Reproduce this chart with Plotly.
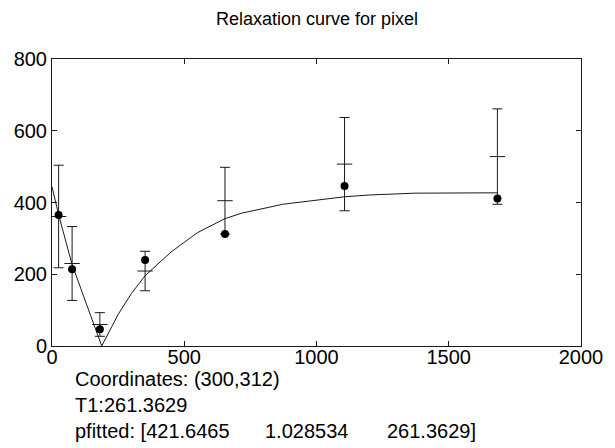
import plotly.graph_objects as go

# Measured data (dots)
t_data = [25, 76, 181, 352, 654, 1106, 1684]
s_data = [365, 214, 47, 240, 312, 446, 411]

# Error bars: centre value and half-length
err_center = [361, 230, 60, 209, 405, 507, 528]
err_half = [143, 103, 33, 55, 93, 130, 133]

# Fitted curve
t_fit = [0, 25, 76, 188, 250, 300, 352, 450, 550, 654, 716, 872, 1106, 1202, 1372, 1684]
s_fit = [444, 366, 227, 0, 88, 146, 196, 262, 316, 355, 370, 395, 416, 421, 426, 427]

x_ticks = [0, 500, 1000, 1500, 2000]
y_ticks = [0, 200, 400, 600, 800]

title_text = "Relaxation curve for pixel"
info_lines = ["Coordinates: (300,312)", "T1:261.3629"]
pfit_parts = ["pfitted: [421.6465", "1.028534", "261.3629]"]

FONT = "Liberation Sans, Arial, sans-serif"

fig = go.Figure()

fig.add_trace(go.Scatter(
    x=t_fit, y=s_fit, mode="lines",
    line=dict(color="#1a1a1a", width=1),
    hoverinfo="skip", showlegend=False,
))

fig.add_trace(go.Scatter(
    x=t_data, y=err_center, mode="markers",
    marker=dict(symbol="line-ew-open", size=11, color="#1a1a1a",
                line=dict(color="#1a1a1a", width=1)),
    error_y=dict(type="data", array=err_half, symmetric=True,
                 color="#1a1a1a", thickness=1, width=5),
    showlegend=False,
))

fig.add_trace(go.Scatter(
    x=t_data, y=s_data, mode="markers",
    marker=dict(symbol="circle", size=8, color="black"),
    showlegend=False,
))

L, R, T, B = 52, 586, 59, 346
W, H = 615, 448

def px(xp):
    return (xp - L) / (R - L)

def py(yp):
    return (B - yp) / (B - T)

annotations = []
row_y = [379, 405, 431]
for i, line in enumerate(info_lines):
    annotations.append(dict(
        text=line, xref="paper", yref="paper", x=px(73), y=py(row_y[i]),
        xanchor="left", yanchor="middle", showarrow=False,
        font=dict(family=FONT, size=20, color="black"),
    ))
for part, xp in zip(pfit_parts, [73, 265, 388]):
    annotations.append(dict(
        text=part, xref="paper", yref="paper", x=px(xp), y=py(row_y[2]),
        xanchor="left", yanchor="middle", showarrow=False,
        font=dict(family=FONT, size=20, color="black"),
    ))
annotations.append(dict(
    text=title_text, xref="paper", yref="paper", x=0.5, y=py(19),
    xanchor="center", yanchor="middle", showarrow=False,
    font=dict(family=FONT, size=18, color="black"),
))

axis_common = dict(
    showline=True, linecolor="#1a1a1a", linewidth=1, mirror="ticks",
    ticks="inside", ticklen=5, tickwidth=1, tickcolor="#1a1a1a",
    showgrid=False, zeroline=False,
    tickfont=dict(family=FONT, size=20, color="black"),
)

fig.update_layout(
    width=W, height=H,
    margin=dict(l=L, r=W - R, t=T, b=H - B),
    paper_bgcolor="white", plot_bgcolor="white",
    xaxis=dict(range=[0, 2000], tickvals=x_ticks, ticklabelstandoff=-7, **axis_common),
    yaxis=dict(range=[0, 800], tickvals=y_ticks, **axis_common),
    annotations=annotations,
    showlegend=False,
)

fig.write_html("out.html")
